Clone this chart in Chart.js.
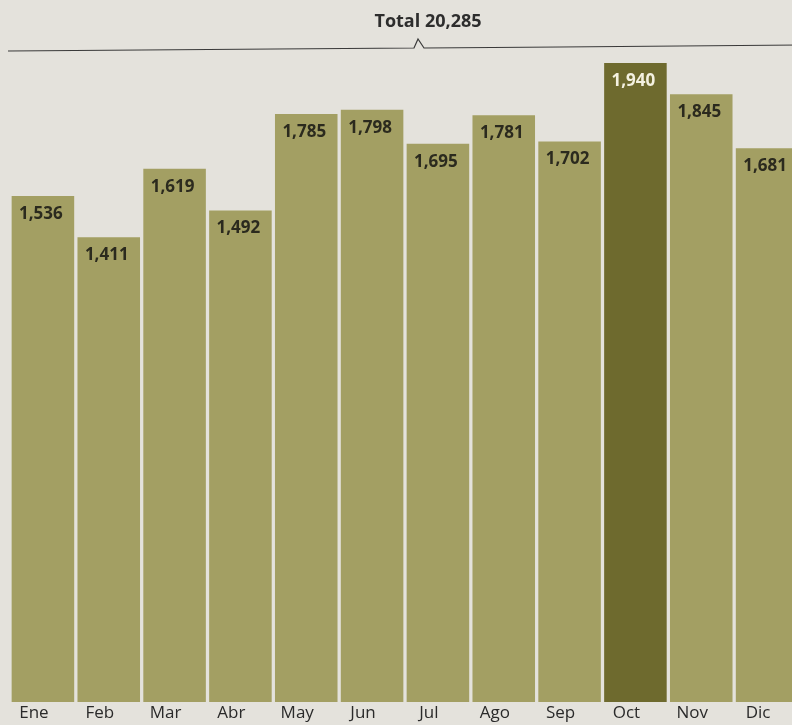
<!DOCTYPE html>
<html>
<head>
<meta charset="utf-8">
<script src="https://cdn.jsdelivr.net/npm/chart.js@4/dist/chart.umd.min.js"></script>
<style>
  body { margin: 0; background: #e4e2dc; overflow: hidden; }
  canvas { display: block; }
</style>
</head>
<body>
<canvas id="myChart" width="800" height="725"></canvas>
<script>
var months = ['Ene', 'Feb', 'Mar', 'Abr', 'May', 'Jun', 'Jul', 'Ago', 'Sep', 'Oct', 'Nov', 'Dic'];
var values = [1536, 1411, 1619, 1492, 1785, 1798, 1695, 1781, 1702, 1940, 1845, 1681];
var total_label = 'Total 20,285';
var highlight = 'Oct';

var bar_color = '#a39f63';
var hi_color = '#6e6a2e';

function fmt(v) {
    return v.toLocaleString('en-US');
}

// header with bracket line + value labels inside bar tops
var decor = {
    id: 'decor',
    afterDatasetsDraw: function (chart) {
        var ctx = chart.ctx;
        ctx.save();
        ctx.font = 'bold 17px "Open Sans"';
        ctx.textAlign = 'center';
        ctx.textBaseline = 'middle';
        chart.getDatasetMeta(0).data.forEach(function (bar, i) {
            ctx.fillStyle = months[i] == highlight ? '#f4f1e0' : '#2b2a1e';
            ctx.fillText(fmt(values[i]), bar.x - 2, bar.y + 18);
        });
        // title
        ctx.fillStyle = '#2d2d2d';
        ctx.font = 'bold 18px "Open Sans"';
        ctx.fillText(total_label, 428, 22);
        // bracket
        ctx.strokeStyle = '#3a3a3a';
        ctx.lineWidth = 1.2;
        ctx.beginPath();
        ctx.moveTo(8, 51);
        ctx.lineTo(275, 49);
        ctx.lineTo(414, 48);
        ctx.lineTo(418, 39);
        ctx.lineTo(424, 48);
        ctx.lineTo(560, 47);
        ctx.lineTo(800, 45);
        ctx.stroke();
        ctx.restore();
    }
};

var ctx = document.getElementById('myChart');
var chart = new Chart(ctx, {
    type: 'bar',
    data: {
        labels: months,
        datasets: [{
            data: values,
            backgroundColor: months.map(function (m) { return m == highlight ? hi_color : bar_color; }),
            borderWidth: 0,
            barPercentage: 0.95,
            categoryPercentage: 1.0
        }]
    },
    options: {
        responsive: false,
        animation: false,
        layout: { padding: { top: 63, left: 10, right: 0, bottom: 0 } },
        scales: {
            y: { display: false, min: 0, max: 1940 },
            x: {
                grid: { display: false, drawTicks: false },
                border: { display: false },
                ticks: {
                    color: '#2a2a2a',
                    font: { size: 17, family: 'Open Sans', lineHeight: 1.0 },
                    padding: 3,
                    labelOffset: -9,
                    maxRotation: 0
                }
            }
        },
        plugins: {
            legend: { display: false },
            tooltip: { enabled: false }
        }
    },
    plugins: [decor]
});
</script>
</body>
</html>
